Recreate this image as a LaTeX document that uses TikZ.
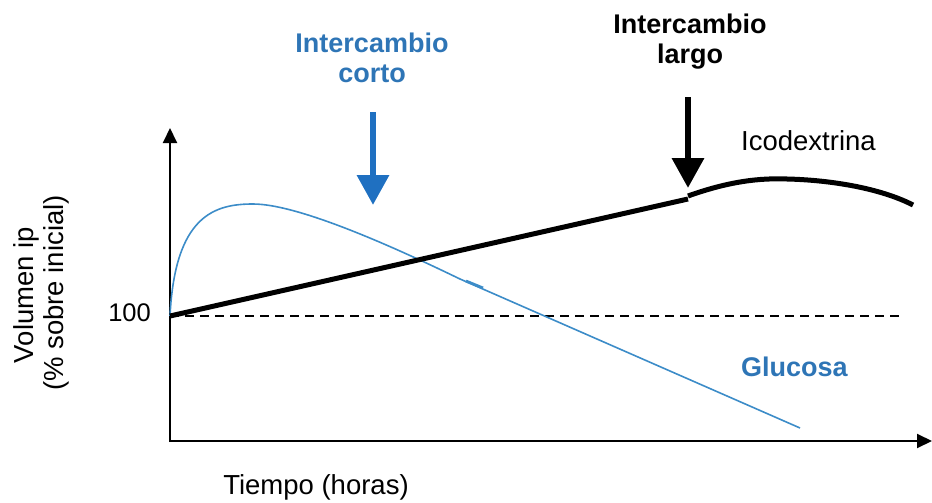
\documentclass[tikz,border=0pt]{standalone}
\usepackage{fontspec}
\setmainfont{Liberation Sans}
\usetikzlibrary{arrows.meta}
\definecolor{bluetxt}{RGB}{46,117,182}
\definecolor{bluearr}{RGB}{31,112,193}
\definecolor{bluecurve}{RGB}{60,140,200}
\tikzset{
  lbl/.style={inner sep=0pt, font=\fontsize{27.5}{31}\selectfont},
  blbl/.style={lbl, font=\fontsize{27}{31}\selectfont\bfseries},
  axis/.style={line width=2pt, -{Triangle[length=15pt,width=14pt]}},
  bigarrow/.style={line width=6.5pt, -{Triangle[length=30pt,width=31pt]}},
}
\begin{document}
\begin{tikzpicture}[x=1pt,y=-1pt]
\useasboundingbox (0,0) rectangle (932,503);
% axes
\coordinate (o) at (170,441);
\coordinate (ytip) at (170,128);
\coordinate (xtip) at (932,441);
\draw[axis] (170,442) -- (ytip);
\draw[axis] (169,441) -- (xtip);
% dashed reference
\coordinate (d0) at (170,316);
\coordinate (d1) at (900,316);
\draw[line width=1.5pt, dash pattern=on 9pt off 6pt] (d0) -- (d1);
% glucose curve
\coordinate (g0) at (170,316);
\coordinate (gpk) at (253,204);
\coordinate (g2) at (460,279);
\coordinate (g3) at (800,428);
\draw[bluecurve, line width=1.6pt] (g0) .. controls (175,215) and (215,204) .. (gpk)
  .. controls (300,204) and (400,250) .. (g2) -- (g3);
\coordinate (m0) at (466,281);
\coordinate (m1) at (483,288);
\draw[bluecurve, line width=2.8pt] (m0) -- (m1);
% icodextrin curve
\coordinate (i0) at (170,316);
\coordinate (i1) at (688,199);
\coordinate (i2) at (688,196);
\coordinate (ipk) at (787,179);
\coordinate (i3) at (913,205);
\draw[line width=5pt] (i0) -- (i1);
\draw[line width=5pt] (i2) .. controls (730,181) and (760,178) .. (ipk)
  .. controls (830,180) and (880,188) .. (i3);
% exchange arrows
\coordinate (ba0) at (373,112);
\coordinate (ba1) at (373,205);
\draw[bluearr, bigarrow] (ba0) -- (ba1);
\coordinate (ka0) at (688,97);
\coordinate (ka1) at (688,188);
\draw[black, bigarrow] (ka0) -- (ka1);
% labels
\node[blbl, text=bluetxt, anchor=base] (c1) at (372,53) {Intercambio};
\node[blbl, text=bluetxt, anchor=base] (c2) at (372,83) {corto};
\node[blbl, anchor=base] (l1) at (690,34) {Intercambio};
\node[blbl, anchor=base] (l2) at (690,64) {largo};
\node[lbl, anchor=base west] (ico) at (741,150) {Icodextrina};
\node[blbl, text=bluetxt, anchor=base west] (glu) at (741,376) {Glucosa};
\node[lbl, anchor=base east, font=\fontsize{25.5}{30}\selectfont] (cien) at (151,321) {100};
\node[lbl, anchor=base] (tiempo) at (316,494) {Tiempo (horas)};
\node[lbl, rotate=90, anchor=base] (yl1) at (33,295) {Volumen ip};
\node[lbl, rotate=90, anchor=base] (yl2) at (63,293) {(\% sobre inicial)};
\end{tikzpicture}
\end{document}
